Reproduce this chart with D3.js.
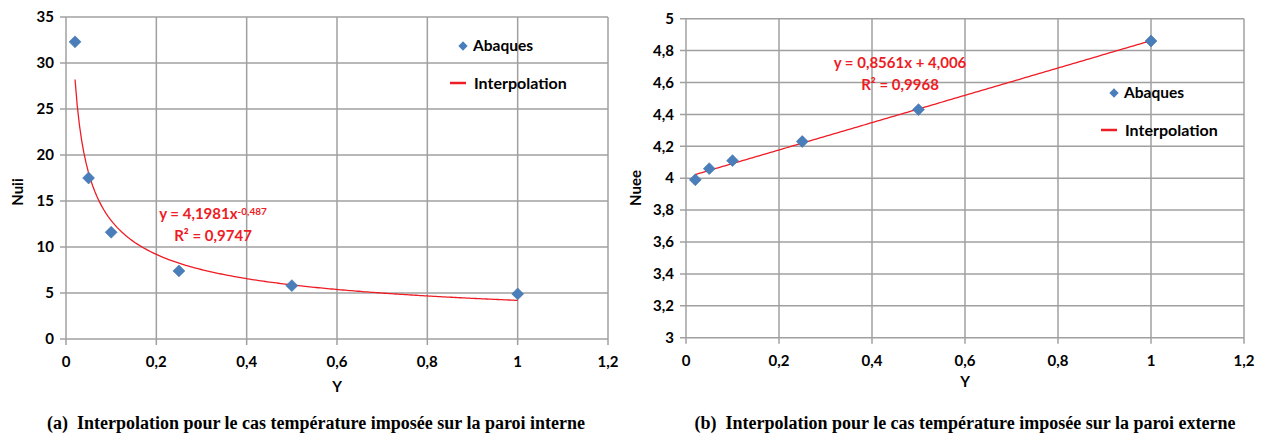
<!DOCTYPE html>
<html>
<head>
<meta charset="utf-8">
<script src="https://cdn.jsdelivr.net/npm/d3@7"></script>
<style>
  body { margin: 0; background: #fff; }
  svg text { font-family: Lato, "Open Sans", sans-serif; font-weight: bold; }
  .caption { font-family: "Liberation Serif", "Times New Roman", serif !important; font-size: 18px; }
  .grid line { stroke: #a0a0a0; stroke-width: 1.5px; }
</style>
</head>
<body>
<div id="chart-area"></div>
<script>
// data
var yValues = [0.02, 0.05, 0.1, 0.25, 0.5, 1];
var nuiiValues = [32.3, 17.5, 11.6, 7.4, 5.8, 4.9];
var nueeValues = [3.99, 4.06, 4.11, 4.23, 4.43, 4.86];
var xTicks = [0, 0.2, 0.4, 0.6, 0.8, 1, 1.2];
var nuiiTicks = [0, 5, 10, 15, 20, 25, 30, 35];
var nueeTicks = [3, 3.2, 3.4, 3.6, 3.8, 4, 4.2, 4.4, 4.6, 4.8, 5];
// trend lines (coefficients shown on the chart)
var powA = 4.1981, powB = -0.487;
var linA = 0.8561, linB = 4.006;

var fmt = d => String(d).replace(".", ",");

var svg = d3.select("#chart-area")
  .append("svg")
    .attr("width", 1268)
    .attr("height", 435);

function drawChart(o) {
  var x = d3.scaleLinear().domain([0, 1.2]).range([o.left, o.right]);
  var y = d3.scaleLinear().domain(o.yDomain).range([o.bottom, o.top]);
  var g = svg.append("g");

  //grid
  var grid = g.append("g").attr("class", "grid");
  grid.selectAll(".h").data(o.yTicks).enter().append("line")
    .attr("x1", o.left - 6).attr("x2", o.right)
    .attr("y1", d => y(d)).attr("y2", d => y(d));
  grid.selectAll(".v").data(xTicks).enter().append("line")
    .attr("x1", d => x(d)).attr("x2", d => x(d))
    .attr("y1", o.top).attr("y2", o.bottom + 6);

  //tick labels
  g.selectAll(".yl").data(o.yTicks).enter().append("text")
    .attr("x", o.left - 12).attr("y", d => y(d)).attr("dy", "0.35em")
    .attr("text-anchor", "end").style("font-size", "15px")
    .text(fmt);
  g.selectAll(".xl").data(xTicks).enter().append("text")
    .attr("x", d => x(d)).attr("y", o.bottom + 23).attr("dy", "0.35em")
    .attr("text-anchor", "middle").style("font-size", "15px")
    .text(fmt);

  //axis titles
  g.append("text")
    .attr("x", (o.left + o.right) / 2).attr("y", o.xTitleY).attr("dy", "0.35em")
    .attr("text-anchor", "middle").style("font-size", "15px").text("Y");
  g.append("text")
    .attr("transform", "translate(" + o.yTitleX + "," + o.yTitleY + ") rotate(-90)")
    .attr("dy", "0.35em").attr("text-anchor", "middle").style("font-size", "15px")
    .text(o.yTitle);

  //trend line
  var line = d3.line().x(d => x(d[0])).y(d => y(d[1]));
  var xs = d3.range(0, 201).map(i => 0.02 + (1 - 0.02) * i / 200);
  g.append("path")
    .attr("fill", "none").attr("stroke", "#ee1c25").attr("stroke-width", 1.3)
    .attr("d", line(xs.map(v => [v, o.fit(v)])));

  //points
  var diamond = d3.symbol().type(d3.symbolDiamond2).size(90);
  g.selectAll(".pt").data(yValues).enter().append("path")
    .attr("d", diamond)
    .attr("transform", (d, i) => "translate(" + x(d) + "," + y(o.values[i]) + ")")
    .attr("fill", "#4a7ebb").attr("stroke", "#3f6ea6").attr("stroke-width", 0.6);

  //equation
  var eq = g.append("text")
    .attr("x", o.eqX).attr("y", o.eqY).attr("dy", "0.35em")
    .attr("text-anchor", "middle").attr("fill", "#ee1c25").style("font-size", "15px");
  o.eq(eq);
  g.append("text")
    .attr("x", o.eqX).attr("y", o.eqY + 22).attr("dy", "0.35em")
    .attr("text-anchor", "middle").attr("fill", "#ee1c25").style("font-size", "15px")
    .text(o.r2);

  //legend
  var lg = g.append("g").attr("transform", "translate(" + o.legX + "," + o.legY + ")");
  lg.append("path").attr("d", d3.symbol().type(d3.symbolDiamond2).size(55))
    .attr("fill", "#4a7ebb");
  lg.append("text").attr("x", 10).attr("dy", "0.35em").style("font-size", "15.5px").text("Abaques");
  lg.append("line").attr("x1", -13).attr("x2", 3).attr("y1", 37).attr("y2", 37)
    .attr("stroke", "#ee1c25").attr("stroke-width", 2.5);
  lg.append("text").attr("x", 11).attr("y", 37).attr("dy", "0.35em").style("font-size", "16px").text("Interpolation");

  //caption
  svg.append("text").attr("class", "caption")
    .attr("x", o.capX).attr("y", 423).attr("dy", "0.35em")
    .attr("text-anchor", "middle").text(o.caption);
}

drawChart({
  left: 66, right: 608, top: 17, bottom: 339,
  yDomain: [0, 35], yTicks: nuiiTicks, values: nuiiValues,
  yTitle: "Nuii", yTitleX: 18, yTitleY: 192, xTitleY: 387,
  fit: v => powA * Math.pow(v, powB),
  eqX: 213, eqY: 214,
  eq: t => {
    t.append("tspan").text("y = " + fmt(powA) + "x");
    t.append("tspan").attr("dy", "-0.45em").style("font-size", "10px").text(fmt(powB));
  },
  r2: "R² = 0,9747",
  legX: 463, legY: 46,
  capX: 316,
  caption: "(a)\u00a0\u00a0Interpolation pour le cas température imposée sur la paroi interne"
});

drawChart({
  left: 686, right: 1244, top: 18.7, bottom: 337.7,
  yDomain: [3, 5], yTicks: nueeTicks, values: nueeValues,
  yTitle: "Nuee", yTitleX: 636, yTitleY: 188, xTitleY: 382,
  fit: v => linA * v + linB,
  eqX: 900, eqY: 63,
  eq: t => t.text("y = " + fmt(linA) + "x + " + fmt(linB)),
  r2: "R² = 0,9968",
  legX: 1114, legY: 93,
  capX: 965,
  caption: "(b)\u00a0\u00a0Interpolation pour le cas température imposée sur la paroi externe"
});
</script>
</body>
</html>
